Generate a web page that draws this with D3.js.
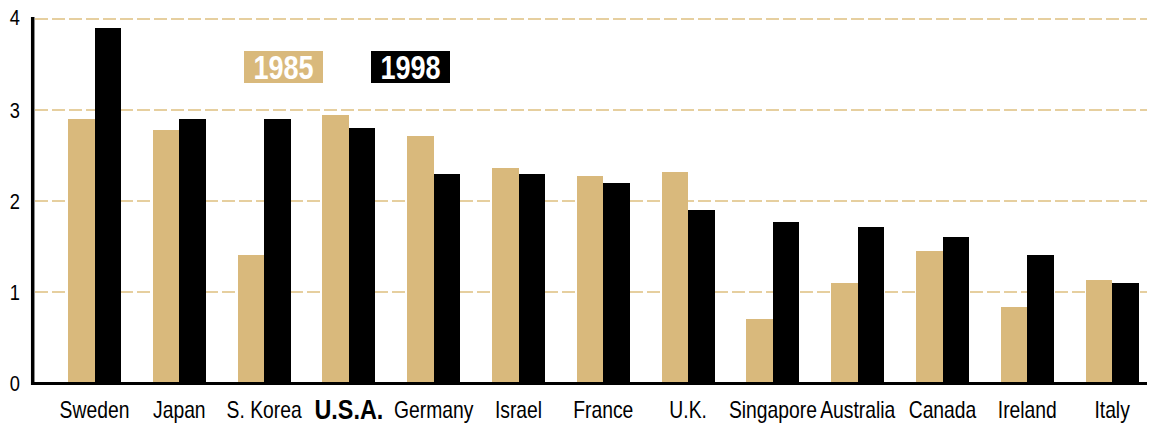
<!DOCTYPE html>
<html>
<head>
<meta charset="utf-8">
<script src="https://cdn.jsdelivr.net/npm/d3@7"></script>
<style>
  html, body { margin: 0; padding: 0; background: #fff; }
  svg { display: block; }
  text { font-family: "Liberation Sans", Arial, sans-serif; }
</style>
</head>
<body>
<svg id="chart" width="1151" height="425"></svg>
<script>
const countries = ["Sweden","Japan","S. Korea","U.S.A.","Germany","Israel","France","U.K.","Singapore","Australia","Canada","Ireland","Italy"];
const years = ["1985","1998"];
const values1985 = [2.90, 2.78, 1.41, 2.95, 2.71, 2.36, 2.27, 2.32, 0.70, 1.10, 1.45, 0.84, 1.13];
const values1998 = [3.90, 2.90, 2.90, 2.80, 2.30, 2.30, 2.20, 1.90, 1.77, 1.71, 1.60, 1.41, 1.10];
const yTicks = [0, 1, 2, 3, 4];
const highlight = "U.S.A.";

const colors = { "1985": "#d9b97c", "1998": "#000000" };
const gridColor = "#e6cf9f";
const narrow = 0.83; // horizontal condensing of the type

const svg = d3.select("#chart");

const y = d3.scaleLinear().domain([0, 4]).range([383, 19]);
const x = d3.scaleBand().domain(countries).range([52.1, 1154.5]).paddingInner(0.375).paddingOuter(0.1875);
const xs = d3.scaleBand().domain(years).range([0, x.bandwidth()]).padding(0);

// gridlines
svg.append("g").selectAll("line").data(yTicks.filter(d => d > 0)).join("line")
  .attr("x1", 35).attr("x2", 1147)
  .attr("y1", d => y(d)).attr("y2", d => y(d))
  .attr("stroke", gridColor).attr("stroke-width", 2)
  .attr("stroke-dasharray", "13,4");

// bars
const data = countries.map((c, i) => ({ country: c, vals: [
  { year: "1985", v: values1985[i] },
  { year: "1998", v: values1998[i] }
]}));

const groups = svg.append("g").selectAll("g").data(data).join("g")
  .attr("transform", d => `translate(${x(d.country)},0)`);
groups.selectAll("rect").data(d => d.vals).join("rect")
  .attr("x", d => xs(d.year))
  .attr("width", xs.bandwidth())
  .attr("y", d => y(d.v))
  .attr("height", d => y(0) - y(d.v))
  .attr("fill", d => colors[d.year])
  .attr("shape-rendering", "crispEdges");

// axes lines
svg.append("line").attr("x1", 32.7).attr("x2", 32.7).attr("y1", 17).attr("y2", 385)
  .attr("stroke", "#000").attr("stroke-width", 3.5);
svg.append("line").attr("x1", 31).attr("x2", 1147).attr("y1", y(0) + 0.5).attr("y2", y(0) + 0.5)
  .attr("stroke", "#000").attr("stroke-width", 3);

// y tick labels
svg.append("g").selectAll("text").data(yTicks).join("text")
  .attr("transform", d => `translate(20,${y(d) + (d === 4 ? 6 : 8)}) scale(${narrow},1)`)
  .attr("text-anchor", "end")
  .attr("font-size", 22)
  .attr("fill", "#000")
  .text(d => d);

// x labels
svg.append("g").selectAll("text").data(countries).join("text")
  .attr("transform", d => `translate(${x(d) + x.bandwidth() / 2},${d === highlight ? 419 : 418}) scale(${d === highlight ? 0.82 : 0.84},1)`)
  .attr("text-anchor", "middle")
  .attr("font-size", d => d === highlight ? 28.5 : 23)
  .attr("font-weight", d => d === highlight ? "bold" : "normal")
  .attr("fill", "#000")
  .text(d => d);

// legend
const legendX = { "1985": 244, "1998": 371 };
const leg = svg.append("g").selectAll("g").data(years).join("g")
  .attr("transform", d => `translate(${legendX[d]},51)`);
leg.append("rect").attr("width", 79).attr("height", 32).attr("fill", d => colors[d]);
leg.append("text")
  .attr("transform", `translate(39.5,28) scale(0.82,1)`)
  .attr("text-anchor", "middle")
  .attr("font-size", 33).attr("font-weight", "bold")
  .attr("fill", "#fff")
  .text(d => d);
</script>
</body>
</html>
